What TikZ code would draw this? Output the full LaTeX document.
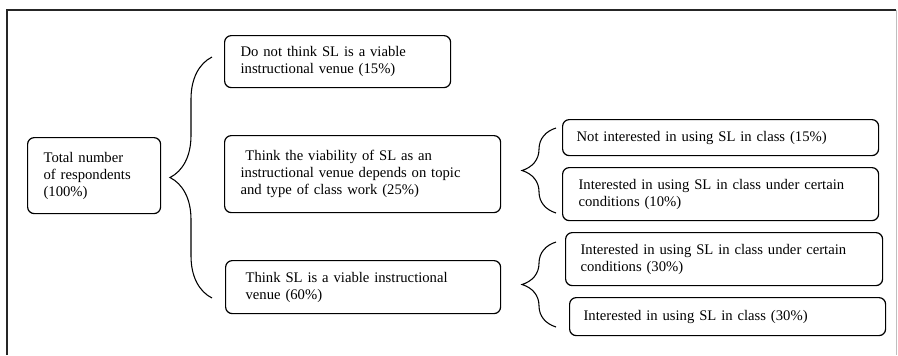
\documentclass[tikz,border=0pt]{standalone}
\usepackage{fontspec}
\setmainfont{Liberation Serif}
\usetikzlibrary{decorations.pathreplacing,positioning}
\tikzset{
    framesty/.style={line width=0.9pt, draw=black!85},
    edgesty/.style={line width=0.6pt, draw=black!25},
    boxsty/.style={draw, rounded corners=5pt, line width=0.9pt, anchor=north west,
                   align=left, inner ysep=2pt, font=\fontsize{11}{12.75}\selectfont},
    bracesty/.style={decorate, decoration={brace, amplitude=#1}, line width=0.8pt},
}

\begin{document}
\begin{tikzpicture}[x=0.75pt, y=-0.75pt]
  \useasboundingbox (0,0) rectangle (898,355);
  \draw[framesty] (7,355) -- (7,10) -- (896,10);
  \draw[edgesty] (896,10) -- (896,355);

  % level 0
  \node[boxsty, minimum width=99.75pt, minimum height=57pt, inner xsep=12pt, text width=75.75pt]
    (tot) at (27,137) {Total number\\of respondents\\(100\%)};

  % level 1
  \node[boxsty, minimum width=169.5pt, minimum height=39pt, inner xsep=12pt, text width=145.5pt]
    (notv) at (224,35) {Do not think SL is a viable\\instructional venue (15\%)};
  \node[boxsty, minimum width=207pt, minimum height=57.75pt, inner xsep=12pt, text width=183pt]
    (dep) at (224,135) {\ Think the viability of SL as an\\instructional venue depends on topic\\and type of class work (25\%)};
  \node[boxsty, minimum width=206.25pt, minimum height=39.75pt, inner xsep=15pt, text width=176.25pt]
    (viab) at (225,260) {Think SL is a viable instructional\\venue (60\%)};

  % level 2
  \node[boxsty, minimum width=237pt, minimum height=27pt, inner xsep=10.5pt, text width=216pt]
    (notint) at (562,119) {Not interested in using SL in class (15\%)};
  \node[boxsty, minimum width=237pt, minimum height=39.75pt, inner xsep=12pt, text width=213pt]
    (condlo) at (562,167) {Interested in using SL in class under certain\\conditions (10\%)};
  \node[boxsty, minimum width=237.75pt, minimum height=39.75pt, inner xsep=11.25pt, text width=215.25pt]
    (condhi) at (565,232) {Interested in using SL in class under certain\\conditions (30\%)};
  \node[boxsty, minimum width=237pt, minimum height=28.5pt, inner xsep=10.5pt, text width=216pt]
    (inter) at (569,297) {Interested in using SL in class (30\%)};

  % braces
  \coordinate (totbot) at (212,298);
  \coordinate (tottop) at (212,57);
  \coordinate (depbot) at (556,213);
  \coordinate (deptop) at (556,128);
  \coordinate (viabbot) at (556,327);
  \coordinate (viabtop) at (556,242);
  \draw[bracesty=31.5pt] (totbot) -- (tottop);
  \draw[bracesty=25.5pt] (depbot) -- (deptop);
  \draw[bracesty=25.5pt] (viabbot) -- (viabtop);
\end{tikzpicture}
\end{document}
